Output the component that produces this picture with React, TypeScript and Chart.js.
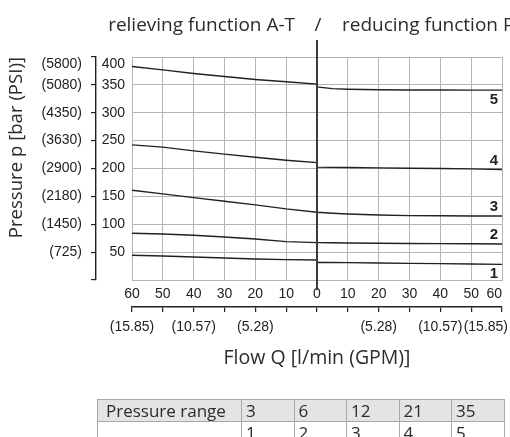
import React, { useEffect, useRef } from "react";
import { Chart, registerables } from "chart.js";

Chart.register(...registerables);

// ---- data ----
const flowTicks = [-60, -50, -40, -30, -20, -10, 0, 10, 20, 30, 40, 50, 60];
const barTicks = [0, 50, 100, 150, 200, 250, 300, 350, 400];
const psiTickValues = [50, 100, 150, 200, 250, 300, 350, 400];
const psiTickLabels = ["(725)", "(1450)", "(2180)", "(2900)", "(3630)", "(4350)", "(5080)", "(5800)"];
const gpmTickValues = [-60, -40, -20, 20, 40, 60];
const gpmTickLabels = ["(15.85)", "(10.57)", "(5.28)", "(5.28)", "(10.57)", "(15.85)"];

const curveFlow = [-60, -50, -40, -30, -20, -10, 0, 0, 5, 10, 20, 30, 40, 50, 60];
const curve1 = [44.3, 43.1, 41.3, 39.5, 37.7, 36.5, 35.9, 31.4, 31.3, 31.1, 30.5, 29.9, 29.3, 28.7, 28.1];
const curve2 = [83.8, 82.6, 80.2, 77.2, 73.6, 68.8, 67.0, 67.0, 66.7, 66.4, 66.0, 65.6, 65.2, 64.9, 64.6];
const curve3 = [161, 154.4, 147.8, 141.3, 134.7, 127.5, 121.6, 121.6, 119.8, 118.5, 116.7, 115.5, 115.3, 114.9, 114.9];
const curve4 = [242.4, 238.3, 231.6, 225.7, 220.3, 214.9, 210.7, 202.4, 202.1, 201.7, 201.1, 200.5, 199.9, 199.3, 198.1];
const curve5 = [383, 377, 370.5, 365, 359.7, 355.5, 351.4, 346.5, 343.2, 342.2, 341.2, 340.9, 340.7, 340.6, 340.6];
const curveNames = ["1", "2", "3", "4", "5"];

const titleLeft = "relieving function A-T";
const titleSlash = "/";
const titleRight = "reducing function P-A";
const yTitle = "Pressure p [bar (PSI)]";
const xTitle = "Flow Q [l/min (GPM)]";

const tableHeader = "Pressure range";
const pressureRanges = ["3", "6", "12", "21", "35"];
const curveNumbers = ["1", "2", "3", "4", "5"];

// ---- styles ----
const LINE = "#231f20";
const GRID = "#b4b4b4";
const TICKFONT = { family: "'Liberation Sans', Arial, sans-serif", size: 14 };
const TEXTFONT = "'Open Sans', 'Noto Sans', sans-serif";

const decorPlugin = {
  id: "decor",
  beforeDraw(chart: any) {
    const patchLast = (scale: any, dx: number) => {
      const items = scale.getLabelItems();
      let last: any = null;
      for (const it of items) if (it.label) last = it;
      if (last) {
        last.options.textAlign = "right";
        last.options.translation[0] = scale.getPixelForValue(scale.max) + dx;
      }
    };
    patchLast(chart.scales.x, 0);
    patchLast(chart.scales.gpm, 6);
    const shiftTop = (scale: any, dy: number) => {
      const items = scale.getLabelItems();
      let last: any = null;
      for (const it of items) if (it.label) last = it;
      if (last) last.options.translation[1] += dy;
    };
    shiftTop(chart.scales.y, 7);
    shiftTop(chart.scales.psi, 7);
  },
  afterDatasetsDraw(chart: any) {
    const ctx = chart.ctx;
    const xs = chart.scales.x;
    const area = chart.chartArea;
    const x0 = Math.round(xs.getPixelForValue(0));
    ctx.save();
    ctx.strokeStyle = "#3a3a3a";
    ctx.lineWidth = 2;
    ctx.beginPath();
    ctx.moveTo(x0, 40);
    ctx.lineTo(x0, area.bottom + 10);
    ctx.stroke();

    ctx.font = "bold 15px 'Liberation Sans', Arial, sans-serif";
    ctx.textAlign = "right";
    ctx.textBaseline = "middle";
    ctx.fillStyle = LINE;
    chart.data.datasets.forEach((ds: any, i: number) => {
      const meta = chart.getDatasetMeta(i);
      const pt = meta.data[meta.data.length - 1];
      const below = i === 0 || i === 4;
      ctx.fillText(curveNames[i], pt.x - 4, pt.y + (below ? 10 : -9));
    });

    ctx.font = `19px ${TEXTFONT}`;
    ctx.textBaseline = "alphabetic";
    ctx.fillStyle = "#2b2b2b";
    ctx.textAlign = "right";
    ctx.fillText(titleLeft, x0 - 22, 31);
    ctx.textAlign = "center";
    ctx.fillText(titleSlash, x0 + 1, 31);
    ctx.textAlign = "left";
    ctx.fillText(titleRight, x0 + 25, 31);
    ctx.restore();
  },
};

function ticksFrom(values: number[]) {
  return (s: any) => {
    s.ticks = values.map((v) => ({ value: v }));
  };
}

export default function App() {
  const ref = useRef<HTMLCanvasElement | null>(null);
  useEffect(() => {
    if (!ref.current) return;
    const curves = [curve1, curve2, curve3, curve4, curve5];
    const chart = new Chart(ref.current, {
      type: "line",
      data: {
        datasets: curves.map((c, i) => ({
          label: curveNames[i],
          data: curveFlow.map((f, j) => ({ x: f, y: c[j] })),
          borderColor: LINE,
          borderWidth: 1.4,
          pointRadius: 0,
          tension: 0,
          fill: false,
          xAxisID: "x",
          yAxisID: "y",
        })),
      },
      options: {
        responsive: false,
        devicePixelRatio: 1,
        animation: false,
        events: [],
        layout: { padding: { left: 0, top: 57, right: 8, bottom: 59 } },
        plugins: { legend: { display: false }, tooltip: { enabled: false }, title: { display: false } },
        scales: {
          x: {
            type: "linear",
            position: "bottom",
            weight: 0,
            min: -60,
            max: 60,
            afterBuildTicks: ticksFrom(flowTicks),
            ticks: {
              callback: (v: any) => String(Math.abs(Number(v))),
              font: TICKFONT,
              color: "#222",
              padding: 6,
              autoSkip: false,
              maxRotation: 0,
            },
            grid: { color: GRID, lineWidth: 1, drawTicks: false },
            border: { display: true, color: GRID },
            afterFit: (s: any) => {
              s.height = 27;
              s.paddingLeft = 0;
              s.paddingRight = 0;
            },
          },
          gpm: {
            type: "linear",
            position: "bottom",
            weight: 1,
            min: -60,
            max: 60,
            afterBuildTicks: ticksFrom(flowTicks),
            ticks: {
              callback: (v: any) => {
                const k = gpmTickValues.indexOf(Number(v));
                return k >= 0 ? gpmTickLabels[k] : "";
              },
              font: TICKFONT,
              color: "#222",
              padding: 7,
              autoSkip: false,
              maxRotation: 0,
            },
            grid: { drawOnChartArea: false, drawTicks: true, tickLength: 5, color: "#222", lineWidth: 1.2 },
            border: { display: true, color: "#222", width: 1.4 },
            title: {
              display: true,
              text: xTitle,
              font: { family: TEXTFONT, size: 19.5 },
              color: "#2b2b2b",
              padding: { top: 0, bottom: 8 },
            },
            afterFit: (s: any) => {
              s.height = 71;
              s.paddingLeft = 0;
              s.paddingRight = 0;
            },
          },
          y: {
            type: "linear",
            position: "left",
            weight: 0,
            min: 0,
            max: 400,
            afterBuildTicks: ticksFrom(barTicks),
            ticks: {
              callback: (v: any) => (Number(v) === 0 ? "" : String(v)),
              font: TICKFONT,
              color: "#222",
              padding: 7,
            },
            grid: { color: GRID, lineWidth: 1, drawTicks: false },
            border: { display: false },
            afterFit: (s: any) => {
              s.width = 36;
              s.paddingTop = 0;
              s.paddingBottom = 0;
            },
          },
          psi: {
            type: "linear",
            position: "left",
            weight: 1,
            min: 0,
            max: 400,
            afterBuildTicks: ticksFrom(barTicks),
            ticks: {
              callback: (v: any) => {
                const k = psiTickValues.indexOf(Number(v));
                return k >= 0 ? psiTickLabels[k] : "";
              },
              font: TICKFONT,
              color: "#222",
              padding: 9,
            },
            grid: { drawOnChartArea: false, drawTicks: true, tickLength: 5, color: "#222", lineWidth: 1.2 },
            border: { display: true, color: "#222", width: 1.4 },
            title: {
              display: true,
              text: yTitle,
              align: "end",
              font: { family: TEXTFONT, size: 18.6 },
              color: "#2b2b2b",
              padding: { top: 6, bottom: 0 },
            },
            afterFit: (s: any) => {
              s.width = 96;
              s.paddingTop = 0;
              s.paddingBottom = 0;
            },
          },
        },
      } as any,
      plugins: [decorPlugin],
    });
    return () => chart.destroy();
  }, []);

  const cell: React.CSSProperties = {
    border: "1px solid #a8a8a8",
    padding: "0 0 0 4px",
    height: 21,
    textAlign: "left",
    fontWeight: 400,
  };

  return (
    <div style={{ position: "absolute", left: 0, top: 0, width: 510, height: 437, overflow: "hidden", background: "#fff" }}>
      <canvas ref={ref} width={510} height={437} style={{ position: "absolute", left: 0, top: 0 }} />
      <table
        style={{
          position: "absolute",
          left: 97,
          top: 399,
          borderCollapse: "collapse",
          fontFamily: TEXTFONT,
          fontSize: 17,
          color: "#2b2b2b",
          lineHeight: "21px",
          tableLayout: "fixed",
        }}
      >
        <colgroup>
          <col style={{ width: 144 }} />
          {pressureRanges.map((_, i) => (
            <col key={i} style={{ width: 52.5 }} />
          ))}
        </colgroup>
        <tbody>
          <tr style={{ background: "#e4e4e4" }}>
            <td style={{ ...cell, paddingLeft: 8 }}>{tableHeader}</td>
            {pressureRanges.map((p, i) => (
              <td key={i} style={cell}>{p}</td>
            ))}
          </tr>
          <tr>
            <td style={{ ...cell, paddingLeft: 8 }}></td>
            {curveNumbers.map((n, i) => (
              <td key={i} style={cell}>{n}</td>
            ))}
          </tr>
        </tbody>
      </table>
    </div>
  );
}
